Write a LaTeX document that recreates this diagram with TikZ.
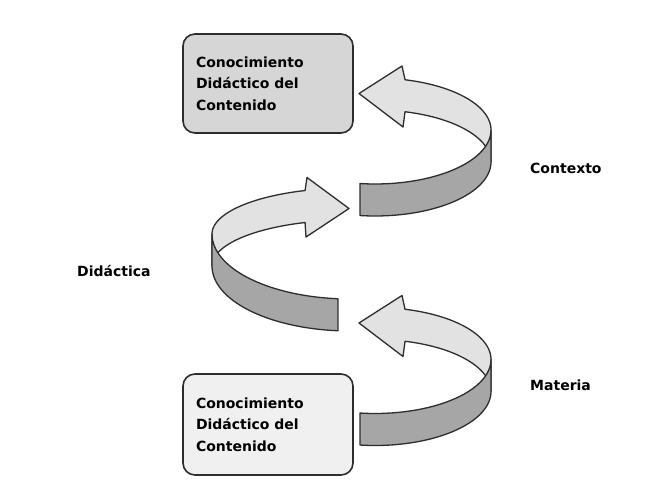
\documentclass[tikz,border=0pt]{standalone}
\usepackage{fontspec}
\setmainfont{DejaVu Sans}
\definecolor{edgecol}{RGB}{45,45,45}
\definecolor{boxtopfill}{RGB}{214,214,214}
\definecolor{boxbotfill}{RGB}{240,240,240}
\definecolor{lightband}{RGB}{226,226,226}
\definecolor{darkband}{RGB}{166,166,166}
\begin{document}
\begin{tikzpicture}[x=1bp,y=-1bp,
  outline/.style={draw=edgecol, line width=1.3bp, line join=round},
  lightpart/.style={outline, fill=lightband},
  darkpart/.style={outline, fill=darkband},
  cdcbox/.style={draw=edgecol, line width=1.6bp, rounded corners=12bp,
    minimum width=170bp, text width=144bp, inner xsep=13bp, align=left,
    font=\bfseries\fontsize{14bp}{21.5bp}\selectfont},
  lbl/.style={anchor=west, inner sep=0pt, font=\bfseries\fontsize{14bp}{17bp}\selectfont}]
\useasboundingbox (0,0) rectangle (646,489);
\fill[white] (0,0) rectangle (646,489);

% boxes
\node[cdcbox, fill=boxtopfill, minimum height=99bp] (top) at (268,83.5)
  {Conocimiento\\Didáctico del\\Contenido};
\node[cdcbox, fill=boxbotfill, minimum height=101bp] (bottom) at (268,424.5)
  {Conocimiento\\Didáctico del\\Contenido};

% upper right ribbon arrow (Contexto)
\begin{scope}
\path[lightpart] (402,66) -- (359,93.5) -- (403,127)
  -- plot[domain=285:360, samples=40, variable=\t] ({375+116*cos(\t)},{162+52*sin(\t)})
  -- plot[domain=360:285, samples=40, variable=\t] ({375+116*cos(\t)},{130+52*sin(\t)})
  -- cycle;
\path[darkpart]
  plot[domain=0:97.43, samples=40, variable=\t] ({375+116*cos(\t)},{130+54*sin(\t)})
  -- plot[domain=97.43:0, samples=40, variable=\t] ({375+116*cos(\t)},{162+54*sin(\t)})
  -- cycle;
\end{scope}

% lower right ribbon arrow (Materia)
\begin{scope}[shift={(0,229.5)}]
\path[lightpart] (402,66) -- (359,93.5) -- (403,127)
  -- plot[domain=285:360, samples=40, variable=\t] ({375+116*cos(\t)},{162+52*sin(\t)})
  -- plot[domain=360:285, samples=40, variable=\t] ({375+116*cos(\t)},{130+52*sin(\t)})
  -- cycle;
\path[darkpart]
  plot[domain=0:97.43, samples=40, variable=\t] ({375+116*cos(\t)},{130+54*sin(\t)})
  -- plot[domain=97.43:0, samples=40, variable=\t] ({375+116*cos(\t)},{162+54*sin(\t)})
  -- cycle;
\end{scope}

% middle left ribbon arrow (Didactica)
\path[lightpart] (307,177.5) -- (349,208.5) -- (306,237)
  -- plot[domain=251:180, samples=40, variable=\t] ({350+138*cos(\t)},{266+46*sin(\t)})
  -- plot[domain=180:251, samples=40, variable=\t] ({350+138*cos(\t)},{234+46*sin(\t)})
  -- cycle;
\path[darkpart]
  plot[domain=180:95, samples=40, variable=\t] ({350+138*cos(\t)},{234+65*sin(\t)})
  -- plot[domain=95:180, samples=40, variable=\t] ({350+138*cos(\t)},{266+65*sin(\t)})
  -- cycle;

% labels
\node[lbl] (contexto) at (530,168) {Contexto};
\node[lbl] (didactica) at (77,271) {Didáctica};
\node[lbl] (materia) at (530,385) {Materia};
\end{tikzpicture}
\end{document}
